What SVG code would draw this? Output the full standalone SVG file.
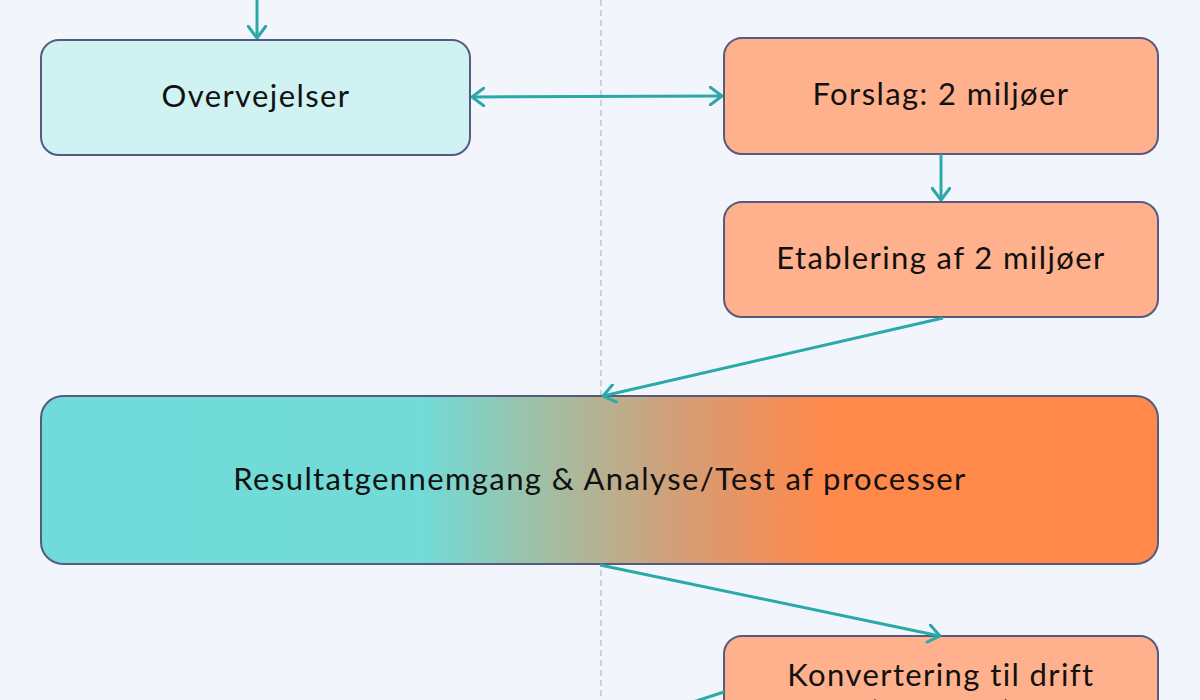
<svg xmlns="http://www.w3.org/2000/svg" width="1200" height="700" viewBox="0 0 1200 700">
<defs>
<style>
.node rect{stroke:#555a80;stroke-width:2}
.lt{fill:#d1f2f2}
.or{fill:#ffb08c}
text{font-family:Lato,"Noto Sans",sans-serif;font-size:31px;letter-spacing:1.4px;fill:#111;text-anchor:middle}
.conn path{fill:none;stroke:#2ba8a8;stroke-width:3}
</style>
<linearGradient id="g" x1="0" y1="0" x2="1" y2="0">
<stop offset="0" stop-color="#70dbd9"/>
<stop offset="0.34" stop-color="#72dbd8"/>
<stop offset="0.45" stop-color="#a0bfa4"/>
<stop offset="0.58" stop-color="#d79c74"/>
<stop offset="0.70" stop-color="#ff894b"/>
<stop offset="1" stop-color="#ff884a"/>
</linearGradient>
<marker id="a" viewBox="0 0 14 20" refX="13" refY="10" markerWidth="14" markerHeight="20" markerUnits="userSpaceOnUse" orient="auto-start-reverse">
<path d="M1,1 L13,10 L1,19" fill="none" stroke="#2ba8a8" stroke-width="3" stroke-linecap="round" stroke-linejoin="round"/>
</marker>
</defs>
<rect width="1200" height="700" fill="#f2f5fc"/>
<line x1="601" y1="0" x2="601" y2="700" stroke="#c2c4cc" stroke-width="1.5" stroke-dasharray="6,4"/>
<g id="n1" class="node"><rect class="lt" x="41" y="40" width="429" height="115" rx="18"/><text x="256" y="107">Overvejelser</text></g>
<g id="n2" class="node"><rect class="or" x="724" y="38" width="434" height="116" rx="18"/><text x="941" y="105">Forslag: 2 miljøer</text></g>
<g id="n3" class="node"><rect class="or" x="724" y="202" width="434" height="115" rx="18"/><text x="941" y="269">Etablering af 2 miljøer</text></g>
<g id="n4" class="node"><rect fill="url(#g)" x="41" y="396" width="1117" height="168" rx="22"/><text x="600" y="490">Resultatgennemgang &amp; Analyse/Test af processer</text></g>
<g id="n5" class="node"><rect class="or" x="724" y="636" width="434" height="120" rx="18"/><text x="941" y="686">Konvertering til drift</text><text x="941" y="723">(Model A)</text></g>
<g id="connectors" class="conn">
<path d="M257,0 L257,38" marker-end="url(#a)"/>
<path d="M472,97 L722,96" marker-start="url(#a)" marker-end="url(#a)"/>
<path d="M941,154 L941,200" marker-end="url(#a)"/>
<path d="M943,318 L603,396" marker-end="url(#a)"/>
<path d="M600,565 L940,636" marker-end="url(#a)"/>
<path d="M650,716 L724,692"/>
</g>
</svg>
